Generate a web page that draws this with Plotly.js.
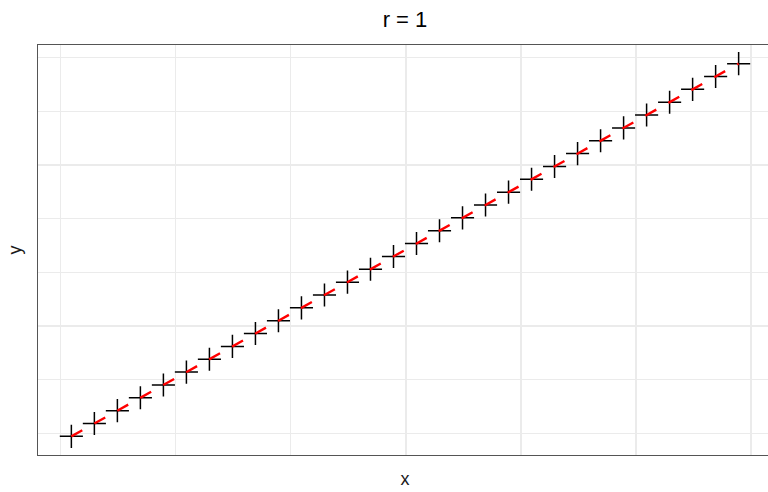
<!DOCTYPE html>
<html>
<head>
<meta charset="utf-8">
<script src="https://cdn.plot.ly/plotly-3.0.1.min.js"></script>
<style>
html,body{margin:0;padding:0;overflow:hidden;background:#fff;width:768px;height:492px;}
#chart{width:772px;height:492px;}
</style>
</head>
<body>
<div id="chart"></div>
<script>
// Data: 30 points lying exactly on a line (r = 1)
const xValues = [1,2,3,4,5,6,7,8,9,10,11,12,13,14,15,16,17,18,19,20,21,22,23,24,25,26,27,28,29,30];
const yValues = [1,2,3,4,5,6,7,8,9,10,11,12,13,14,15,16,17,18,19,20,21,22,23,24,25,26,27,28,29,30];
const xGrid = [0.535, 5.535, 10.535, 15.535, 20.535, 25.535, 30.535];
const yGrid = [1.23, 5.405, 9.58, 13.755, 17.93, 22.105, 26.28, 30.455];

const pts = {
  x: xValues, y: yValues, type: 'scatter', mode: 'markers',
  marker: {symbol: 'cross-thin', size: 16.5, color: '#000', line: {color: '#000', width: 1.5}},
  hoverinfo: 'skip', showlegend: false
};
// fitted line through the points (dashes align with points)
const fit = {
  x: xValues, y: yValues, type: 'scatter', mode: 'lines',
  line: {color: '#ff0000', width: 2.4, dash: '12.5px,13.8px'},
  hoverinfo: 'skip', showlegend: false
};

const axisCommon = {
  showticklabels: false, ticks: '', zeroline: false,
  showgrid: true, gridcolor: '#ebebeb', gridwidth: 1.4,
  showline: true, mirror: true, linecolor: '#555', linewidth: 1.3,
  tickmode: 'array'
};

const FONT = "'Liberation Sans', Arial, sans-serif";

const layout = {
  width: 772, height: 492,
  margin: {l: 38, r: 0, t: 45, b: 37},
  paper_bgcolor: '#fff', plot_bgcolor: '#fff',
  font: {family: FONT, color: '#1a1a1a'},
  title: {text: 'r = 1', x: 0.5, xref: 'paper', xanchor: 'center', y: 0.96, yanchor: 'middle',
          font: {family: FONT, size: 22, color: '#000'}},
  xaxis: Object.assign({}, axisCommon, {
    range: [-0.45, 31.45], tickvals: xGrid,
    title: {text: 'x', font: {family: FONT, size: 18, color: '#1a1a1a'}, standoff: 17}
  }),
  yaxis: Object.assign({}, axisCommon, {
    range: [-0.45, 31.45], tickvals: yGrid,
    title: {text: 'y', font: {family: FONT, size: 18, color: '#1a1a1a'}, standoff: 10}
  })
};

Plotly.newPlot('chart', [pts, fit], layout, {displayModeBar: false, staticPlot: true});
</script>
</body>
</html>
